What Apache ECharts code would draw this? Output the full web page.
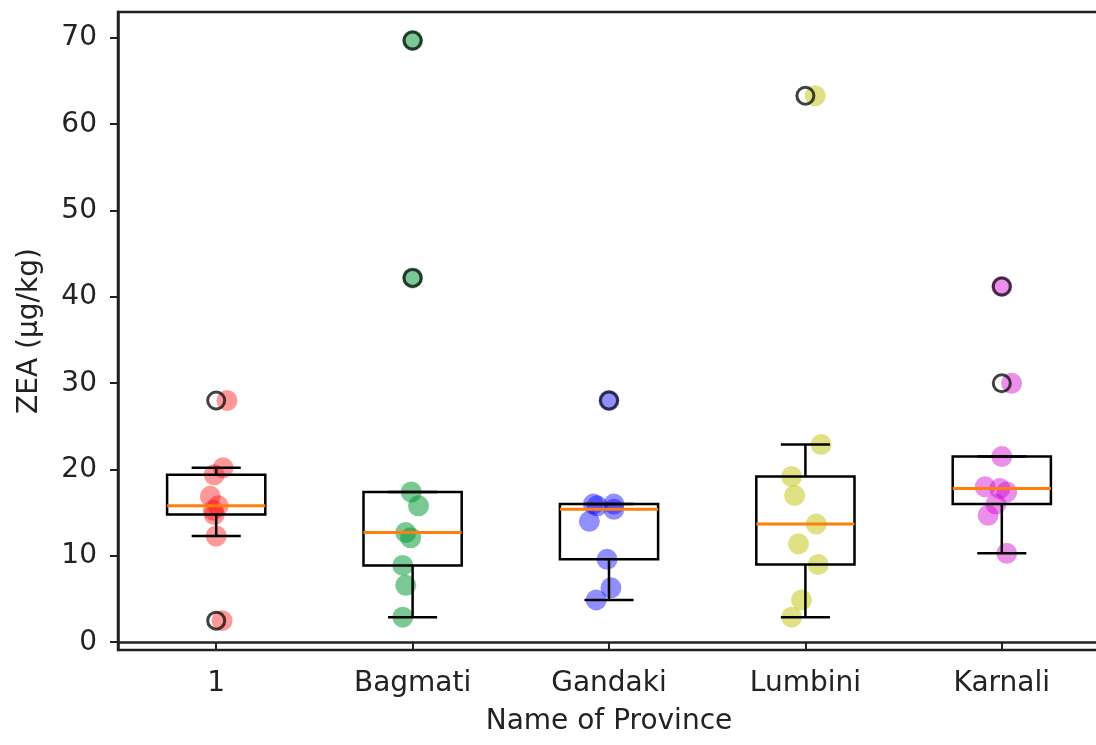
<!DOCTYPE html>
<html>
<head>
<meta charset="utf-8">
<script src="https://cdn.jsdelivr.net/npm/echarts@6/dist/echarts.min.js"></script>
<style>
  html, body { margin: 0; padding: 0; background: #fff; }
  #chart { width: 1096px; height: 745px; }
</style>
</head>
<body>
<div id="chart"></div>
<script>
// provinces along the x axis
const provinces = ["1", "Bagmati", "Gandaki", "Lumbini", "Karnali"];
const dotColors = [
  "rgba(255,0,0,0.5)",
  "rgba(0,150,50,0.65)",
  "rgba(0,0,255,0.55)",
  "rgba(191,191,0,0.6)",
  "rgba(210,0,210,0.55)"
];

// ZEA (ug/kg) per sample
const zeaP1 = [2.5, 12.3, 14.8, 15.3, 15.8, 16.9, 19.4, 20.2, 28.0];
const zeaBagmati = [2.9, 6.6, 8.9, 12.1, 12.7, 15.8, 17.4, 42.2, 69.7];
const zeaGandaki = [4.9, 6.3, 9.6, 14.0, 15.4, 15.8, 16.0, 16.0, 28.0];
const zeaLumbini = [2.9, 4.9, 9.0, 11.4, 13.7, 17.0, 19.2, 22.9, 63.3];
const zeaKarnali = [10.3, 14.7, 16.0, 17.4, 17.8, 18.0, 21.5, 30.0, 41.2];

// horizontal jitter of each dot (x units)
const jitP1 = [0.03, 0.0, -0.01, -0.015, 0.01, -0.03, -0.01, 0.035, 0.055];
const jitBagmati = [-0.05, -0.035, -0.05, -0.01, -0.035, 0.03, -0.007, 0, 0];
const jitGandaki = [-0.065, 0.01, -0.01, -0.1, 0.025, -0.06, -0.08, 0.025, 0];
const jitLumbini = [-0.07, -0.02, 0.065, -0.035, 0.055, -0.055, -0.07, 0.08, 0.05];
const jitKarnali = [0.025, -0.07, -0.03, 0.025, -0.01, -0.085, 0, 0.05, 0];

const yTicks = [0, 10, 20, 30, 40, 50, 60, 70];

const groups = [zeaP1, zeaBagmati, zeaGandaki, zeaLumbini, zeaKarnali];
const jitters = [jitP1, jitBagmati, jitGandaki, jitLumbini, jitKarnali];

// numpy-style linear percentile
function pct(sorted, p) {
  const pos = p * (sorted.length - 1);
  const lo = Math.floor(pos);
  const hi = Math.min(lo + 1, sorted.length - 1);
  return sorted[lo] + (pos - lo) * (sorted[hi] - sorted[lo]);
}

const boxData = [];
const flierData = [];
groups.forEach(function (vals, i) {
  const s = vals.slice().sort(function (a, b) { return a - b; });
  const q1 = pct(s, 0.25), med = pct(s, 0.5), q3 = pct(s, 0.75);
  const iqr = q3 - q1;
  const inside = s.filter(function (v) { return v >= q1 - 1.5 * iqr && v <= q3 + 1.5 * iqr; });
  const lowW = inside[0], highW = inside[inside.length - 1];
  boxData.push([i + 1, lowW, q1, med, q3, highW]);
  s.forEach(function (v) {
    if (v < q1 - 1.5 * iqr || v > q3 + 1.5 * iqr) flierData.push([i + 1, v]);
  });
});

function renderBox(params, api) {
  const x = api.value(0);
  const lowW = api.value(1), q1 = api.value(2), med = api.value(3), q3 = api.value(4), highW = api.value(5);
  const half = 0.25, cap = 0.125;
  const tl = api.coord([x - half, q3]);
  const br = api.coord([x + half, q1]);
  const line = { stroke: "#000", lineWidth: 2.5, fill: null };
  const c = function (a, b) { return api.coord([a, b]); };
  function seg(p1, p2, style) {
    return { type: "line", shape: { x1: p1[0], y1: p1[1], x2: p2[0], y2: p2[1] }, style: style };
  }
  return {
    type: "group",
    children: [
      seg(c(x, q3), c(x, highW), line),
      seg(c(x, q1), c(x, lowW), line),
      seg(c(x - cap, highW), c(x + cap, highW), line),
      seg(c(x - cap, lowW), c(x + cap, lowW), line),
      {
        type: "rect",
        shape: { x: tl[0], y: tl[1], width: br[0] - tl[0], height: br[1] - tl[1] },
        style: { stroke: "#000", lineWidth: 2.5, fill: "rgba(0,0,0,0)" }
      },
      seg(c(x - half, med), c(x + half, med), { stroke: "#ff7f0e", lineWidth: 3 })
    ]
  };
}

const dotSeries = groups.map(function (vals, i) {
  return {
    type: "scatter",
    name: provinces[i],
    symbolSize: 21,
    z: 2,
    itemStyle: { color: dotColors[i] },
    data: vals.map(function (v, k) { return [i + 1 + jitters[i][k], v]; })
  };
});

const font = "'DejaVu Sans', sans-serif";
const chart = echarts.init(document.getElementById("chart"));
chart.setOption({
  animation: false,
  grid: {
    left: 118, top: 12, width: 982, height: 638,
    containLabel: false,
    outerBoundsMode: "none",
    show: true, borderColor: "#222", borderWidth: 2.5, backgroundColor: "#fff"
  },
  xAxis: {
    type: "value",
    min: 0.5,
    max: 5.5,
    name: "Name of Province",
    nameLocation: "middle",
    nameGap: 58,
    nameTextStyle: { fontFamily: font, fontSize: 28, color: "#222" },
    splitLine: { show: false },
    axisLine: { show: true, lineStyle: { color: "#222", width: 2.5 } },
    axisTick: {
      show: true, length: 8, inside: false,
      lineStyle: { color: "#222", width: 2 },
      customValues: [1, 2, 3, 4, 5]
    },
    axisLabel: {
      customValues: [1, 2, 3, 4, 5],
      margin: 20,
      fontFamily: font, fontSize: 28, color: "#222",
      formatter: function (v) { return provinces[Math.round(v) - 1]; }
    }
  },
  yAxis: {
    type: "value",
    min: -0.9,
    max: 73.0,
    name: "ZEA (μg/kg)",
    nameLocation: "middle",
    nameGap: 74,
    nameTextStyle: { fontFamily: font, fontSize: 28, color: "#222" },
    splitLine: { show: false },
    axisLine: { show: true, lineStyle: { color: "#222", width: 2.5 } },
    axisTick: {
      show: true, length: 8, inside: false,
      lineStyle: { color: "#222", width: 2 },
      customValues: yTicks
    },
    axisLabel: {
      customValues: yTicks,
      margin: 21,
      fontFamily: font, fontSize: 28, color: "#222"
    }
  },
  series: dotSeries.concat([
    {
      type: "custom",
      name: "box",
      renderItem: renderBox,
      z: 4,
      data: boxData
    },
    {
      type: "scatter",
      name: "fliers",
      symbolSize: 17,
      z: 5,
      itemStyle: { color: "rgba(0,0,0,0)", borderColor: "#111", borderWidth: 3 },
      data: flierData
    }
  ])
});
</script>
</body>
</html>
